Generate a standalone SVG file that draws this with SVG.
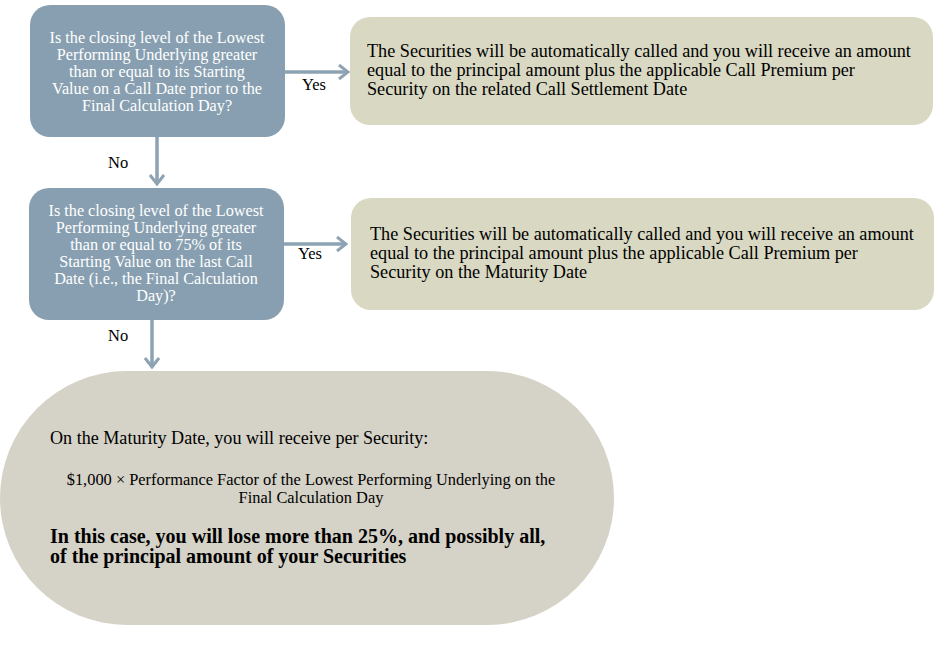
<svg xmlns="http://www.w3.org/2000/svg" width="950" height="646" viewBox="0 0 950 646">
<defs>
<style>
.q{fill:#889FB1}
.r{fill:#D9D9C3}
.s{fill:#D5D2C7}
.qt{font-family:"Liberation Serif",serif;font-size:16.2px;fill:#fff;text-anchor:middle}
.rt{font-family:"Liberation Serif",serif;font-size:18.2px;fill:#000}
.lb{font-family:"Liberation Serif",serif;font-size:16.5px;fill:#000}
.c{stroke:#8DA3B4;stroke-width:3.5;fill:none}
</style>
<marker id="ah" viewBox="0 0 12 16" refX="10" refY="8" markerWidth="12" markerHeight="16" markerUnits="userSpaceOnUse" orient="auto">
<path d="M1,1 L10,8 L1,15" fill="none" stroke="#8DA3B4" stroke-width="3"/>
</marker>
</defs>
<rect width="950" height="646" fill="#fff"/>
<g id="connectors">
<line class="c" x1="285" y1="72" x2="348" y2="72" marker-end="url(#ah)"/>
<line class="c" x1="157" y1="137" x2="157" y2="184" marker-end="url(#ah)"/>
<line class="c" x1="284" y1="244" x2="346" y2="244" marker-end="url(#ah)"/>
<line class="c" x1="152" y1="320" x2="152" y2="367" marker-end="url(#ah)"/>
<text class="lb" x="302" y="90">Yes</text>
<text class="lb" x="108" y="168">No</text>
<text class="lb" x="298" y="259">Yes</text>
<text class="lb" x="108" y="341">No</text>
</g>
<g id="q1">
<rect class="q" x="30" y="5" width="255" height="132" rx="20"/>
<text class="qt"><tspan x="157" y="43">Is the closing level of the Lowest</tspan><tspan x="157" y="60">Performing Underlying greater</tspan><tspan x="157" y="77">than or equal to its Starting</tspan><tspan x="157" y="94">Value on a Call Date prior to the</tspan><tspan x="157" y="111">Final Calculation Day?</tspan></text>
</g>
<g id="q2">
<rect class="q" x="29" y="188" width="255" height="132" rx="20"/>
<text class="qt"><tspan x="156" y="216">Is the closing level of the Lowest</tspan><tspan x="156" y="233">Performing Underlying greater</tspan><tspan x="156" y="250">than or equal to 75% of its</tspan><tspan x="156" y="267">Starting Value on the last Call</tspan><tspan x="156" y="284">Date (i.e., the Final Calculation</tspan><tspan x="156" y="301">Day)?</tspan></text>
</g>
<g id="r1">
<rect class="r" x="350" y="17" width="583" height="108" rx="20"/>
<text class="rt"><tspan x="367" y="57">The Securities will be automatically called and you will receive an amount</tspan><tspan x="367" y="76">equal to the principal amount plus the applicable Call Premium per</tspan><tspan x="367" y="95">Security on the related Call Settlement Date</tspan></text>
</g>
<g id="r2">
<rect class="r" x="351" y="198" width="583" height="112" rx="20"/>
<text class="rt"><tspan x="370" y="240">The Securities will be automatically called and you will receive an amount</tspan><tspan x="370" y="259">equal to the principal amount plus the applicable Call Premium per</tspan><tspan x="370" y="278">Security on the Maturity Date</tspan></text>
</g>
<g id="result">
<rect class="s" x="0" y="371" width="614" height="254" rx="127"/>
<text class="rt" x="50" y="444" style="font-size:18.1px">On the Maturity Date, you will receive per Security:</text>
<text font-family="Liberation Serif, serif" font-size="16.4" text-anchor="middle" fill="#000"><tspan x="311" y="485">$1,000 × Performance Factor of the Lowest Performing Underlying on the</tspan><tspan x="311" y="503">Final Calculation Day</tspan></text>
<text font-family="Liberation Serif, serif" font-size="20" font-weight="bold" fill="#000"><tspan x="50" y="543">In this case, you will lose more than 25%, and possibly all,</tspan><tspan x="50" y="563">of the principal amount of your Securities</tspan></text>
</g>
</svg>
